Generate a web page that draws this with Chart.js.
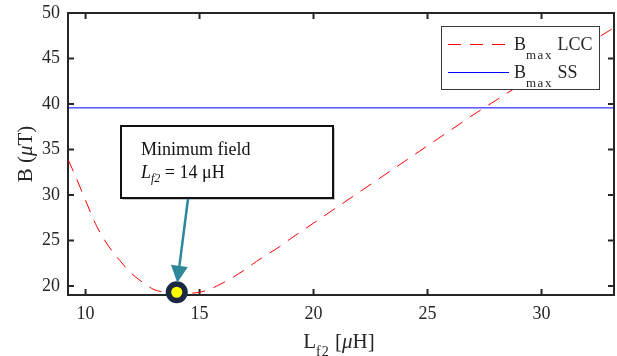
<!DOCTYPE html>
<html>
<head>
<meta charset="utf-8">
<script src="https://cdn.jsdelivr.net/npm/chart.js@4/dist/chart.umd.min.js"></script>
<style>
  html, body { margin: 0; background: #fff; }
  canvas { display: block; }
</style>
</head>
<body>
<canvas id="chart" width="617" height="356"></canvas>
<script>
// L_f2 sweep [uH] and field values
const lf2 = [9.23, 9.5, 10, 10.5, 11, 11.5, 12, 12.5, 13, 13.5, 14, 14.5, 15, 15.5, 16, 16.5, 17, 17.5, 18, 18.5, 19,
             20, 21, 22, 23, 24, 25, 26, 27, 28, 29, 30, 31, 32, 33, 33.18];
const bLcc = [33.9, 32.4, 29.4, 26.5, 24.4, 22.8, 21.4, 20.4, 19.6, 19.3, 19.2, 19.2, 19.3, 19.7, 20.3, 21.0, 21.8, 22.7, 23.5, 24.3, 25.2,
              26.9, 28.6, 30.3, 32.0, 33.7, 35.4, 37.1, 38.8, 40.4, 42.0, 43.6, 45.1, 46.6, 48.1, 48.4];
const bSs = 39.57;
const minField = { x: 14, y: 19.3 };

const xRange = [9.23, 33.18];
const yRange = [19.0, 50];
const xTicks = [10, 15, 20, 25, 30];
const yTicks = [20, 25, 30, 35, 40, 45, 50];

const serif = '"Liberation Serif", "Times New Roman", serif';
const ink = '#262626';

const runsWidth = (ctx, runs) => {
  let w = 0;
  runs.forEach(r => {
    ctx.font = r.font;
    ctx.letterSpacing = (r.ls || 0) + 'px';
    w += ctx.measureText(r.text).width;
  });
  ctx.letterSpacing = '0px';
  return w;
};

const drawRuns = (ctx, runs, x, y) => {
  runs.forEach(r => {
    ctx.font = r.font;
    ctx.letterSpacing = (r.ls || 0) + 'px';
    ctx.fillText(r.text, x, y + (r.dy || 0));
    x += ctx.measureText(r.text).width;
  });
  ctx.letterSpacing = '0px';
};

// no extra room for overhanging tick labels, the plot box is fixed
const noPad = s => {
  s.paddingLeft = 0; s.paddingRight = 0;
  s.paddingTop = 0; s.paddingBottom = 0;
};

// box + inward ticks on all four sides, MATLAB style
const framePlugin = {
  id: 'frame',
  beforeDatasetsDraw(chart) {
    const {ctx, chartArea: a, scales: {x, y}} = chart;
    ctx.save();
    ctx.strokeStyle = ink;
    ctx.lineWidth = 2;
    ctx.beginPath();
    xTicks.forEach(v => {
      const px = x.getPixelForValue(v);
      ctx.moveTo(px, a.bottom); ctx.lineTo(px, a.bottom - 6);
      ctx.moveTo(px, a.top); ctx.lineTo(px, a.top + 6);
    });
    yTicks.forEach(v => {
      const py = y.getPixelForValue(v);
      ctx.moveTo(a.left, py); ctx.lineTo(a.left + 6, py);
      ctx.moveTo(a.right, py); ctx.lineTo(a.right - 6, py);
    });
    ctx.stroke();
    ctx.strokeRect(a.left, a.top, a.right - a.left, a.bottom - a.top);
    ctx.restore();
  }
};

const titlesPlugin = {
  id: 'titles',
  afterDraw(chart) {
    const {ctx, chartArea: a} = chart;
    ctx.save();
    ctx.fillStyle = ink;
    ctx.textBaseline = 'alphabetic';

    const xt = [
      {text: 'L', font: `21px ${serif}`},
      {text: 'f2', font: `14px ${serif}`, dy: 8, ls: 1},
      {text: ' [', font: `21px ${serif}`},
      {text: 'μ', font: `italic 21px ${serif}`},
      {text: 'H]', font: `21px ${serif}`}
    ];
    const cx = (a.left + a.right) / 2 - 2;
    drawRuns(ctx, xt, cx - runsWidth(ctx, xt) / 2, 348);

    const yt = [
      {text: 'B (', font: `21px ${serif}`},
      {text: 'μ', font: `italic 21px ${serif}`},
      {text: 'T)', font: `21px ${serif}`}
    ];
    ctx.translate(32, (a.top + a.bottom) / 2);
    ctx.rotate(-Math.PI / 2);
    drawRuns(ctx, yt, -runsWidth(ctx, yt) / 2, 0);
    ctx.restore();
  }
};

const legendPlugin = {
  id: 'subLegend',
  afterDatasetsDraw(chart) {
    const {ctx, chartArea: a} = chart;
    const left = a.right - 173, top = a.top + 13, w = 158, h = 63;
    ctx.save();
    ctx.fillStyle = '#fff';
    ctx.fillRect(left, top, w, h);
    ctx.strokeStyle = '#3a3a3a';
    ctx.lineWidth = 1;
    ctx.strokeRect(left + 0.5, top + 0.5, w, h);

    const rows = [
      {ds: chart.data.datasets[0], name: 'LCC', y: top + 18},
      {ds: chart.data.datasets[1], name: 'SS', y: top + 46}
    ];
    rows.forEach(r => {
      ctx.strokeStyle = r.ds.borderColor;
      ctx.lineWidth = 1;
      ctx.setLineDash(r.ds.borderDash || []);
      ctx.beginPath();
      ctx.moveTo(left + 7, r.y + 0.5);
      ctx.lineTo(left + 68, r.y + 0.5);
      ctx.stroke();
      ctx.setLineDash([]);
      ctx.fillStyle = ink;
      drawRuns(ctx, [
        {text: 'B', font: `18px ${serif}`},
        {text: 'max', font: `13px ${serif}`, dy: 9, ls: 1.5},
        {text: ' ' + r.name, font: `18px ${serif}`}
      ], left + 73, r.y + 6);
    });
    ctx.restore();
  }
};

// callout box with arrow to the minimum
const calloutPlugin = {
  id: 'callout',
  afterDatasetsDraw(chart) {
    const {ctx, chartArea: a, scales: {x, y}} = chart;
    const bx = a.left + 53, by = a.top + 113, bw = 212, bh = 72;
    ctx.save();
    ctx.fillStyle = '#c4c4c4';
    ctx.fillRect(bx + 2, by + 2, bw, bh);
    ctx.fillStyle = '#fff';
    ctx.fillRect(bx, by, bw, bh);
    ctx.strokeStyle = '#111';
    ctx.lineWidth = 2;
    ctx.strokeRect(bx, by, bw, bh);

    ctx.fillStyle = '#111';
    ctx.textBaseline = 'alphabetic';
    drawRuns(ctx, [{text: 'Minimum field', font: `18px ${serif}`}], bx + 20, by + 29);
    drawRuns(ctx, [
      {text: 'L', font: `italic 18px ${serif}`},
      {text: 'f2', font: `italic 12px ${serif}`, dy: 4},
      {text: ' = 14 μH', font: `18px ${serif}`}
    ], bx + 20, by + 52);

    // arrow
    const sx = bx + 67, sy = by + bh + 1;
    const tx = x.getPixelForValue(minField.x) + 0.5;
    const ty = y.getPixelForValue(minField.y) - 9.5;
    const ang = Math.atan2(ty - sy, tx - sx);
    const hl = 17, hw = 8.5;
    const baseX = tx - hl * Math.cos(ang), baseY = ty - hl * Math.sin(ang);
    ctx.strokeStyle = '#2f879a';
    ctx.fillStyle = '#2f879a';
    ctx.lineWidth = 2.5;
    ctx.beginPath();
    ctx.moveTo(sx, sy);
    ctx.lineTo(baseX, baseY);
    ctx.stroke();
    ctx.beginPath();
    ctx.moveTo(tx, ty);
    ctx.lineTo(baseX + hw * Math.sin(ang), baseY - hw * Math.cos(ang));
    ctx.lineTo(baseX - hw * Math.sin(ang), baseY + hw * Math.cos(ang));
    ctx.closePath();
    ctx.fill();
    ctx.restore();
  }
};

const lccPoints = lf2.map((v, i) => ({x: v, y: bLcc[i]}));
const ssPoints = xRange.map(v => ({x: v, y: bSs}));

new Chart(document.getElementById('chart'), {
  type: 'line',
  data: {
    datasets: [
      {
        label: 'Bmax LCC',
        data: lccPoints,
        borderColor: '#ff0000',
        borderWidth: 1,
        borderDash: [13, 9],
        cubicInterpolationMode: 'monotone',
        pointRadius: 0,
        fill: false,
        order: 3
      },
      {
        label: 'Bmax SS',
        data: ssPoints,
        borderColor: '#0000ff',
        borderWidth: 1,
        pointRadius: 0,
        fill: false,
        order: 2
      },
      {
        label: 'Minimum',
        data: [minField],
        showLine: false,
        pointRadius: 8.3,
        borderWidth: 5.5,
        pointBackgroundColor: '#ffff00',
        pointBorderColor: '#1b2942',
        clip: false,
        order: 1
      }
    ]
  },
  options: {
    responsive: false,
    animation: false,
    devicePixelRatio: 1,
    layout: { autoPadding: false, padding: { top: 13, right: 3, left: 0, bottom: 0 } },
    plugins: {
      legend: { display: false },
      tooltip: { enabled: false }
    },
    scales: {
      x: {
        type: 'linear',
        min: xRange[0],
        max: xRange[1],
        afterBuildTicks: s => { s.ticks = xTicks.map(v => ({value: v})); },
        afterFit: s => { s.height = 61; noPad(s); },
        grid: { display: false, drawTicks: false },
        border: { display: false },
        ticks: {
          autoSkip: false,
          maxRotation: 0,
          padding: 8,
          color: ink,
          font: { family: serif, size: 18 }
        }
      },
      y: {
        type: 'linear',
        min: yRange[0],
        max: yRange[1],
        afterBuildTicks: s => { s.ticks = yTicks.map(v => ({value: v})); },
        afterFit: s => { s.width = 68; noPad(s); },
        grid: { display: false, drawTicks: false },
        border: { display: false },
        ticks: {
          autoSkip: false,
          padding: 8,
          color: ink,
          font: { family: serif, size: 18 }
        }
      }
    }
  },
  plugins: [framePlugin, legendPlugin, calloutPlugin, titlesPlugin]
});
</script>
</body>
</html>
